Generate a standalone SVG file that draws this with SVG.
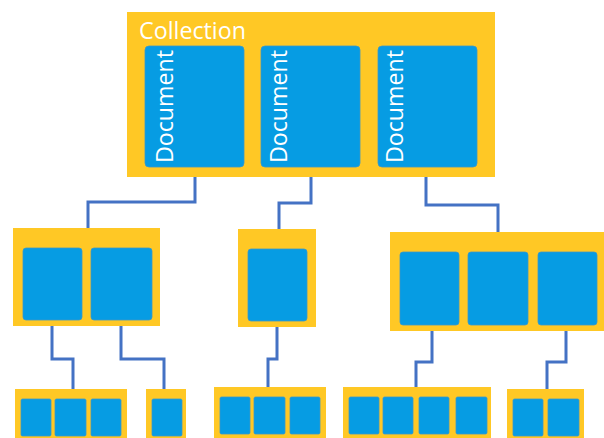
<svg xmlns="http://www.w3.org/2000/svg" width="604" height="438" viewBox="0 0 604 438">
<style>
.box{fill:#FFC825}
.doc{fill:#069CE3;stroke:#3D97C6;stroke-width:0.8}
.lbl{font-family:"Open Sans","Liberation Sans",Arial,sans-serif;fill:#FFFFFF}
.con{fill:none;stroke:#4472C4;stroke-width:3}
</style>
<rect width="604" height="438" fill="#FFFFFF"/>
<g id="connectors">
<polyline class="con" points="195,165 195,202 88,202 88,229"/>
<polyline class="con" points="311,165 311,203 279,203 279,230"/>
<polyline class="con" points="426,165 426,205 498,205 498,233"/>
<polyline class="con" points="52,318 52,359 73,359 73,390"/>
<polyline class="con" points="121,318 121,359 164,359 164,390"/>
<polyline class="con" points="277,319 277,359 268,359 268,388"/>
<polyline class="con" points="432,323 432,362 416,362 416,388"/>
<polyline class="con" points="566,323 566,362 547,362 547,390"/>
</g>
<g id="collection">
<rect class="box" x="127" y="12" width="368" height="165"/>
<text class="lbl" x="139" y="39" font-size="23" textLength="107" lengthAdjust="spacingAndGlyphs">Collection</text>
</g>
<g id="doc1">
<rect class="doc" x="145" y="46" width="99" height="121" rx="4"/>
<text class="lbl" font-size="23" transform="translate(173,163) rotate(-90)" textLength="113" lengthAdjust="spacingAndGlyphs">Document</text>
</g>
<g id="doc2">
<rect class="doc" x="261" y="46" width="99" height="121" rx="4"/>
<text class="lbl" font-size="23" transform="translate(287,163) rotate(-90)" textLength="113" lengthAdjust="spacingAndGlyphs">Document</text>
</g>
<g id="doc3">
<rect class="doc" x="378" y="46" width="99" height="121" rx="4"/>
<text class="lbl" font-size="23" transform="translate(403,163) rotate(-90)" textLength="113" lengthAdjust="spacingAndGlyphs">Document</text>
</g>
<g id="level2-left">
<rect class="box" x="13" y="228" width="147" height="98"/>
<rect class="doc" x="23" y="248" width="59" height="72" rx="3"/>
<rect class="doc" x="91" y="248" width="61" height="72" rx="3"/>
</g>
<g id="level2-middle">
<rect class="box" x="238" y="229" width="78" height="98"/>
<rect class="doc" x="248" y="249" width="59" height="72" rx="3"/>
</g>
<g id="level2-right">
<rect class="box" x="390" y="232" width="214" height="99"/>
<rect class="doc" x="400" y="252" width="59" height="73" rx="3"/>
<rect class="doc" x="468" y="252" width="60" height="73" rx="3"/>
<rect class="doc" x="538" y="252" width="59" height="73" rx="3"/>
</g>
<g id="level3-a">
<rect class="box" x="15" y="389" width="112" height="49"/>
<rect class="doc" x="21" y="399" width="30" height="37" rx="1.5"/>
<rect class="doc" x="55" y="399" width="31" height="37" rx="1.5"/>
<rect class="doc" x="91" y="399" width="30" height="37" rx="1.5"/>
</g>
<g id="level3-b">
<rect class="box" x="146" y="389" width="40" height="49"/>
<rect class="doc" x="152" y="399" width="30" height="37" rx="1.5"/>
</g>
<g id="level3-c">
<rect class="box" x="214" y="387" width="112" height="51"/>
<rect class="doc" x="220" y="397" width="30" height="37" rx="1.5"/>
<rect class="doc" x="254" y="397" width="31" height="37" rx="1.5"/>
<rect class="doc" x="290" y="397" width="30" height="37" rx="1.5"/>
</g>
<g id="level3-d">
<rect class="box" x="343" y="387" width="148" height="51"/>
<rect class="doc" x="349" y="397" width="30" height="37" rx="1.5"/>
<rect class="doc" x="383" y="397" width="30" height="37" rx="1.5"/>
<rect class="doc" x="419" y="397" width="30" height="37" rx="1.5"/>
<rect class="doc" x="456" y="397" width="31" height="37" rx="1.5"/>
</g>
<g id="level3-e">
<rect class="box" x="507" y="389" width="77" height="49"/>
<rect class="doc" x="513" y="399" width="30" height="37" rx="1.5"/>
<rect class="doc" x="548" y="399" width="31" height="37" rx="1.5"/>
</g>
</svg>
